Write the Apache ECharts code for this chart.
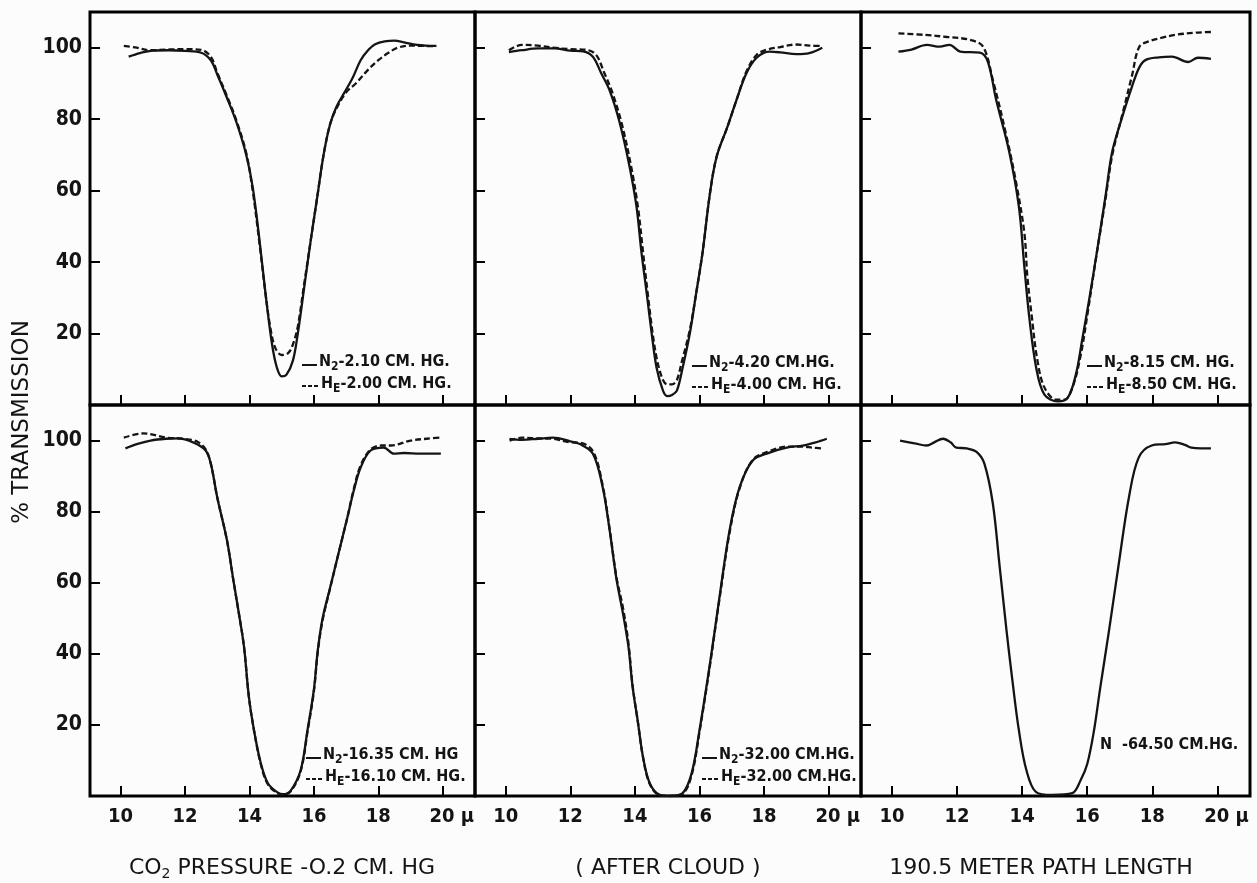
<!DOCTYPE html>
<html>
<head>
<meta charset="utf-8">
<style>
  html, body { margin: 0; padding: 0; background: #fcfcfc; }
  #chart { width: 1257px; height: 883px; }
</style>
<script src="https://cdn.jsdelivr.net/npm/echarts@6.0.0/dist/echarts.min.js"></script>
</head>
<body>
<div id="chart"></div>
<script>
// tick values
var xTicks = [10, 12, 14, 16, 18, 20];
var yTicks = [20, 40, 60, 80, 100];

// curves: [wavelength (micron), % transmission]
var p1N2 = [[10.25,97.5],[10.6,98.5],[11.0,99.2],[11.5,99.3],[12.0,99.1],[12.5,98.6],[12.8,96.5],[13.0,92.5],[13.3,86],[13.6,79],[13.9,70],[14.1,61],[14.3,47],[14.5,31],[14.7,17],[14.85,10.5],[15.0,8],[15.15,8.5],[15.35,12.5],[15.5,20],[15.7,33],[15.9,46],[16.1,58],[16.3,70],[16.5,78.5],[16.7,83.5],[16.95,87.5],[17.2,91.5],[17.45,96.5],[17.7,99.5],[17.9,101],[18.2,101.8],[18.5,102],[18.8,101.5],[19.2,100.8],[19.8,100.5]];
var p1He = [[10.1,100.5],[10.5,100],[10.9,99.3],[11.5,99.5],[12.0,99.6],[12.5,99.4],[12.8,97.5],[13.0,93],[13.3,86.5],[13.6,79.5],[13.9,70.5],[14.1,60],[14.3,46],[14.5,31],[14.65,21.5],[14.8,16],[15.0,14],[15.2,14.5],[15.35,17],[15.5,22],[15.7,34],[15.9,46],[16.1,58],[16.3,70],[16.5,78.5],[16.7,83],[17.0,87.5],[17.3,90],[17.7,94],[18.0,96.5],[18.3,98.5],[18.6,100],[19.0,100.6],[19.4,100.5],[19.8,100.4]];

var p2N2 = [[10.1,98.8],[10.5,99.3],[11,99.8],[11.5,99.8],[12,99.2],[12.4,99],[12.7,97.5],[12.95,93],[13.22,88],[13.53,79],[13.84,66.5],[14.05,55.5],[14.2,43],[14.37,31],[14.52,20],[14.67,10.5],[14.87,4],[15.0,2.5],[15.15,2.8],[15.3,4],[15.48,10.5],[15.7,20],[15.91,32],[16.1,43],[16.32,59],[16.53,69.5],[16.87,78],[17.15,85.5],[17.46,93],[17.77,97.2],[18.17,98.9],[18.5,98.7],[19,98.2],[19.4,98.5],[19.8,100]];
var p2He = [[10.1,99.3],[10.5,100.8],[11,100.6],[11.5,100],[12,99.6],[12.5,99.4],[12.8,98],[13.05,93],[13.3,87.5],[13.6,78.5],[13.9,66],[14.1,55],[14.25,43],[14.4,31],[14.55,20],[14.7,12],[14.87,7],[15.0,5.8],[15.15,5.8],[15.3,7],[15.45,12],[15.7,21],[15.91,32],[16.1,43],[16.32,59],[16.53,69.5],[16.87,78],[17.15,85.5],[17.46,93.5],[17.77,98],[18.1,99.5],[18.5,100.2],[19,100.9],[19.4,100.6],[19.8,100.5]];

var p3N2 = [[10.2,98.9],[10.6,99.5],[11.07,100.8],[11.47,100.3],[11.77,100.8],[12.1,98.9],[12.7,98.6],[12.95,96],[13.2,85.5],[13.6,71],[13.9,55.5],[14.07,38.5],[14.22,24.5],[14.43,10.5],[14.68,3],[15.1,1],[15.4,2],[15.65,8.5],[15.84,18],[16.05,29],[16.3,43],[16.57,59],[16.77,71],[17.07,80.5],[17.37,89],[17.6,94.5],[17.8,96.6],[18.2,97.3],[18.6,97.5],[19.1,96],[19.4,97.2],[19.8,96.9]];
var p3He = [[10.2,104],[11.0,103.6],[11.7,103],[12.4,102.2],[12.8,100.3],[13.1,91],[13.5,76],[13.82,62],[14.07,48],[14.16,36],[14.3,24.5],[14.46,13],[14.68,5],[15.05,1.5],[15.3,1.5],[15.55,5],[15.8,14],[16.0,25],[16.25,40],[16.55,57],[16.77,70],[17.07,81],[17.37,92],[17.6,100.3],[17.9,101.8],[18.3,102.8],[18.7,103.6],[19.33,104.2],[19.8,104.4]];

var p4N2 = [[10.15,97.8],[10.5,99],[10.93,100],[11.4,100.5],[11.77,100.6],[12.27,99.4],[12.64,97.2],[12.8,93.5],[13.0,84],[13.3,72],[13.5,60.7],[13.67,51.4],[13.83,42],[13.98,28],[14.14,18.5],[14.35,9.3],[14.57,3.6],[14.87,1],[15.05,0.5],[15.28,1.5],[15.59,7.3],[15.8,18.5],[16.0,30],[16.12,41],[16.27,50],[16.5,58.5],[16.73,67],[17.04,78.4],[17.24,86],[17.45,92.4],[17.76,97.2],[18.17,98],[18.48,96.3],[18.8,96.5],[19.3,96.3],[19.94,96.3]];
var p4He = [[10.1,100.8],[10.7,102],[11.45,100.8],[11.96,100.5],[12.4,99.6],[12.64,97.5],[12.8,93.5],[13.0,84],[13.3,72],[13.5,60.7],[13.67,51.4],[13.83,42],[13.98,28],[14.14,18.5],[14.35,9],[14.57,3.3],[14.87,0.8],[15.05,0.4],[15.28,1.3],[15.59,7],[15.8,18],[16.0,29.5],[16.12,40.5],[16.27,49.5],[16.5,58.3],[16.73,67],[17.04,78.4],[17.24,86.5],[17.45,93],[17.76,97.5],[18.1,98.6],[18.38,98.6],[19.0,100],[19.5,100.5],[19.9,100.8]];

var p5N2 = [[10.12,100.5],[10.5,100.2],[11,100.5],[11.46,100.8],[12,99.8],[12.3,99],[12.7,96.3],[13.0,87],[13.22,74.7],[13.43,61],[13.63,51.4],[13.8,42],[13.93,30.6],[14.09,21],[14.25,11],[14.46,3.6],[14.77,0.3],[15.1,0],[15.48,0.8],[15.76,6.5],[16.0,18.5],[16.32,37],[16.62,56],[16.93,74.7],[17.24,86.8],[17.65,94.4],[18.17,96.6],[18.7,98],[19.2,98.6],[19.6,99.5],[19.94,100.5]];
var p5He = [[10.12,100],[10.5,100.8],[11,100.6],[11.46,100.5],[12,99.5],[12.3,99.4],[12.7,97],[13.0,87.5],[13.22,75],[13.43,61.5],[13.63,53],[13.8,43],[13.93,31],[14.09,21],[14.25,11],[14.46,3.4],[14.77,0.2],[15.1,0],[15.48,0.6],[15.76,6],[16.0,18],[16.32,36.5],[16.62,55.5],[16.93,74],[17.24,86.5],[17.65,94.6],[18.17,97],[18.7,98.3],[19.2,98.3],[19.5,98],[19.8,97.8]];

var p6N2 = [[10.25,100],[10.7,99.2],[11.07,98.6],[11.3,99.5],[11.57,100.5],[11.8,99.5],[11.98,98],[12.3,97.8],[12.6,96.8],[12.84,93.5],[13.1,82.3],[13.3,65.4],[13.52,46.6],[13.7,32.6],[13.9,18.5],[14.13,7.3],[14.43,1.1],[14.92,0.3],[15.54,0.8],[15.8,4.5],[16.0,9],[16.2,18],[16.4,30.5],[16.67,46.6],[16.97,65.4],[17.28,84],[17.58,95.2],[17.98,98.6],[18.4,99],[18.7,99.5],[19.0,98.8],[19.2,98],[19.5,97.8],[19.8,97.8]];

// legend text of each plate
var n2Labels = ['-2.10 CM. HG.', '-4.20 CM.HG.', '-8.15 CM. HG.', '-16.35 CM. HG', '-32.00 CM.HG.'];
var heLabels = ['-2.00 CM. HG.', '-4.00 CM. HG.', '-8.50 CM. HG.', '-16.10 CM. HG.', '-32.00 CM.HG.'];
var lastLabel = 'N  -64.50 CM.HG.';
var footers = ['( AFTER CLOUD )', '190.5 METER PATH LENGTH'];

var panels = [[p1N2, p1He], [p2N2, p2He], [p3N2, p3He], [p4N2, p4He], [p5N2, p5He], [p6N2]];

// layout
var colLeft = [90, 475, 861];
var colWidth = [385, 386, 389];
var rowTop = [12, 405];
var rowHeight = [393, 391];
var legendAt = [[302, 362], [692, 363], [1087, 363], [306, 755], [702, 755]];

var narrow = "'Liberation Sans Narrow', 'DejaVu Sans Condensed', sans-serif";
var plain = "'DejaVu Sans', sans-serif";
var ink = '#141414';

var grids = [], xAxes = [], yAxes = [], series = [], graphics = [];

for (var i = 0; i < 6; i++) {
    var row = Math.floor(i / 3), col = i % 3;
    grids.push({
        left: colLeft[col], top: rowTop[row],
        width: colWidth[col], height: rowHeight[row],
        show: true, borderColor: '#000', borderWidth: 3, backgroundColor: 'transparent'
    });
    xAxes.push({
        type: 'value', gridIndex: i, min: 9.05, max: 21,
        axisLine: { show: false },
        splitLine: { show: false },
        axisTick: { show: true, inside: true, length: 10, customValues: xTicks, lineStyle: { color: '#000', width: 2 } },
        axisLabel: {
            show: row === 1, customValues: xTicks, margin: 11,
            color: ink, fontFamily: narrow, fontWeight: 'bold', fontSize: 20,
            formatter: function (v) { return v === 20 ? '{u|20 μ}' : String(v); },
            rich: { u: { padding: [0, 0, 0, 18], color: ink, fontFamily: narrow, fontWeight: 'bold', fontSize: 20 } }
        }
    });
    yAxes.push({
        type: 'value', gridIndex: i, min: 0, max: 110,
        axisLine: { show: false },
        splitLine: { show: false },
        axisTick: { show: true, inside: true, length: 10, customValues: yTicks, lineStyle: { color: '#000', width: 2 } },
        axisLabel: {
            show: col === 0, customValues: yTicks, margin: 8,
            color: ink, fontFamily: narrow, fontWeight: 'bold', fontSize: 21
        }
    });
    panels[i].forEach(function (d, k) {
        series.push({
            type: 'line', xAxisIndex: i, yAxisIndex: i,
            data: d, showSymbol: false, smooth: 0.35,
            lineStyle: { color: ink, width: 2.3, type: k === 0 ? 'solid' : [6, 3] },
            animation: false
        });
    });
}

// legends
var legRich = {
    t: { fontFamily: narrow, fontWeight: 'bold', fontSize: 16, lineHeight: 18, verticalAlign: 'middle', color: ink },
    s: { fontFamily: narrow, fontWeight: 'bold', fontSize: 12, padding: [10, 0, 0, 0], verticalAlign: 'bottom', color: ink }
};
legendAt.forEach(function (p, i) {
    graphics.push({ type: 'line', shape: { x1: p[0], y1: p[1] + 3, x2: p[0] + 15, y2: p[1] + 3 }, style: { stroke: ink, lineWidth: 2 } });
    graphics.push({ type: 'text', x: p[0] + 17, y: p[1], style: { text: '{t|N}{s|2}{t|' + n2Labels[i] + '}', rich: legRich, verticalAlign: 'middle', fill: ink } });
    graphics.push({ type: 'line', shape: { x1: p[0], y1: p[1] + 24, x2: p[0] + 17, y2: p[1] + 24 }, style: { stroke: ink, lineWidth: 2, lineDash: [4, 2] } });
    graphics.push({ type: 'text', x: p[0] + 19, y: p[1] + 22, style: { text: '{t|H}{s|E}{t|' + heLabels[i] + '}', rich: legRich, verticalAlign: 'middle', fill: ink } });
});
graphics.push({ type: 'text', x: 1100, y: 745, style: { text: lastLabel, fontFamily: narrow, fontWeight: 'bold', fontSize: 16, verticalAlign: 'middle', fill: ink } });

// titles
graphics.push({ type: 'text', x: 22, y: 422, rotation: Math.PI / 2, style: { text: '% TRANSMISSION', fontFamily: plain, fontSize: 23, align: 'center', verticalAlign: 'middle', fill: ink } });
graphics.push({ type: 'text', x: 282, y: 868, style: {
    text: '{a|CO}{b|2}{a| PRESSURE -O.2 CM. HG}', align: 'center', verticalAlign: 'middle', fill: ink,
    rich: {
        a: { fontFamily: plain, fontSize: 22, lineHeight: 24, verticalAlign: 'middle', color: ink },
        b: { fontFamily: plain, fontSize: 14, padding: [13, 0, 0, 0], verticalAlign: 'bottom', color: ink }
    }
} });
graphics.push({ type: 'text', x: 668, y: 868, style: { text: footers[0], fontFamily: plain, fontSize: 22, align: 'center', verticalAlign: 'middle', fill: ink } });
graphics.push({ type: 'text', x: 1041, y: 868, style: { text: footers[1], fontFamily: plain, fontSize: 22, align: 'center', verticalAlign: 'middle', fill: ink } });

var myChart = echarts.init(document.getElementById('chart'));
myChart.setOption({
    backgroundColor: '#fcfcfc',
    animation: false,
    grid: grids,
    xAxis: xAxes,
    yAxis: yAxes,
    series: series,
    graphic: graphics
});
</script>
</body>
</html>
